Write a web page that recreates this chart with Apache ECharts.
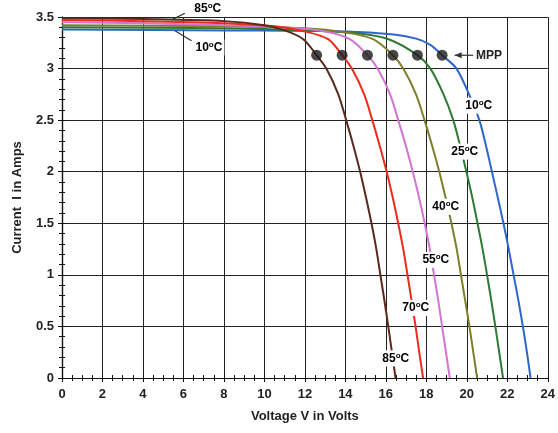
<!DOCTYPE html>
<html>
<head>
<meta charset="utf-8">
<script src="https://cdn.jsdelivr.net/npm/echarts@6/dist/echarts.min.js"></script>
<style>html,body{margin:0;padding:0;background:#fff}#c{width:558px;height:433px}</style>
</head>
<body>
<div id="c"></div>
<script>
// ---- data (Voltage V, Current A) ----
const temps = ['85', '70', '55', '40', '25', '10'];
const curve85 = [[0,3.49],[4,3.48],[8,3.46],[10,3.42],[11,3.37],[11.92,3.285],[12.58,3.13],[13.06,3.0],[13.65,2.75],[14.04,2.5],[14.4,2.25],[14.73,2.0],[15.02,1.75],[15.29,1.5],[15.53,1.25],[15.73,1.0],[15.93,0.75],[16.12,0.5],[16.3,0.25],[16.48,0]];
const curve70 = [[0,3.47],[4,3.46],[8,3.44],[10.5,3.41],[12,3.36],[13.15,3.285],[13.84,3.13],[14.32,3.0],[14.93,2.75],[15.33,2.5],[15.7,2.25],[16.04,2.0],[16.34,1.75],[16.61,1.5],[16.86,1.25],[17.07,1.0],[17.27,0.75],[17.47,0.5],[17.65,0.25],[17.84,0]];
const curve55 = [[0,3.45],[4,3.44],[8,3.42],[11,3.40],[13,3.36],[14.22,3.285],[15.09,3.13],[15.59,3.0],[16.21,2.75],[16.61,2.5],[16.99,2.25],[17.33,2.0],[17.64,1.75],[17.92,1.5],[18.17,1.25],[18.38,1.0],[18.59,0.75],[18.78,0.5],[18.97,0.25],[19.16,0]];
const curve40 = [[0,3.42],[8,3.41],[12,3.39],[14,3.35],[15.37,3.285],[16.35,3.13],[16.86,3.0],[17.49,2.75],[17.91,2.5],[18.29,2.25],[18.64,2.0],[18.95,1.75],[19.24,1.5],[19.5,1.25],[19.71,1.0],[19.92,0.75],[20.13,0.5],[20.32,0.25],[20.51,0]];
const curve25 = [[0,3.40],[8,3.39],[12,3.37],[14.7,3.34],[16.2,3.28],[17.56,3.13],[18.2,3.0],[18.85,2.75],[19.33,2.5],[19.67,2.25],[19.98,2.0],[20.27,1.75],[20.53,1.5],[20.78,1.25],[21.0,1.0],[21.21,0.75],[21.41,0.5],[21.6,0.25],[21.79,0]];
const curve10 = [[0,3.38],[8,3.37],[14,3.36],[16.4,3.33],[17.5,3.29],[18.2,3.23],[18.78,3.13],[19.49,3.0],[20.11,2.75],[20.62,2.5],[20.95,2.25],[21.24,2.0],[21.53,1.75],[21.81,1.5],[22.07,1.25],[22.31,1.0],[22.55,0.75],[22.77,0.5],[22.97,0.25],[23.15,0]];
const mppV = [12.58, 13.84, 15.09, 16.35, 17.56, 18.78];
const mppI = [3.13, 3.13, 3.13, 3.13, 3.13, 3.13];
const xTicks = [0,2,4,6,8,10,12,14,16,18,20,22,24];
const yTicks = [0,0.5,1,1.5,2,2.5,3,3.5];
// label anchors (data units)
const curveLabelPos = [[16.49,0.19],[17.48,0.68],[18.47,1.145],[18.96,1.66],[19.9,2.195],[20.59,2.64]];
const topLabel85 = [7.2, 3.578];
const topLabel10 = [7.26, 3.205];
const leader85 = [[5.42,3.472],[6.07,3.537]];
const leader10 = [[5.58,3.366],[6.4,3.269]];
const mppArrow = [[20.32,3.129],[19.4,3.129]];
const mppText = [20.45, 3.125];

const colors = ['#5a2a1e', '#ee2a1d', '#d274d0', '#7d7f2c', '#2e7a34', '#2f66cc'];
const curves = [curve85, curve70, curve55, curve40, curve25, curve10];

const FONT = 'Liberation Sans, Arial, sans-serif';
const chart = echarts.init(document.getElementById('c'), null, {renderer: 'canvas'});

const axisCommon = {
  type: 'value',
  axisLine: {show: true, lineStyle: {color: '#111', width: 1.2}},
  splitLine: {show: true, lineStyle: {color: '#222', width: 1}},
  minorTick: {show: true, length: 3, lineStyle: {color: '#111', width: 1}},
  axisTick: {show: true, length: 4, lineStyle: {color: '#111', width: 1}},
};

const series = [];
for (let k = curves.length - 1; k >= 0; k--) {
  series.push({
    type: 'line', name: temps[k] + '°C', data: curves[k], smooth: 0.3, smoothMonotone: 'none',
    showSymbol: false, symbol: 'none', lineStyle: {color: colors[k], width: 2}, z: 3, animation: false
  });
}
series.push({
  type: 'scatter', data: mppV.map((v, i) => [v, mppI[i]]), symbol: 'circle', symbolSize: 11,
  itemStyle: {color: '#1a1a1a'}, z: 5, animation: false
});

chart.setOption({
  animation: false,
  backgroundColor: '#fff',
  grid: {left: 62, right: 9, top: 17, bottom: 55},
  xAxis: [
    Object.assign({}, axisCommon, {
      min: 0, max: 24, interval: 2, position: 'bottom',
      minorTick: Object.assign({}, axisCommon.minorTick, {splitNumber: 4}),
      axisLabel: {fontFamily: FONT, fontWeight: 'bold', fontSize: 13, color: '#222', margin: 10,
        formatter: v => xTicks.includes(v) ? String(v) : ''},
      name: 'Voltage V in Volts', nameLocation: 'middle', nameGap: 32,
      nameTextStyle: {fontFamily: FONT, fontWeight: 'bold', fontSize: 13, color: '#222'}
    }),
    Object.assign({}, axisCommon, {
      min: 0, max: 24, interval: 2, position: 'bottom',
      splitLine: {show: false},
      axisTick: {show: true, inside: true, length: 4, lineStyle: {color: '#111'}},
      minorTick: {show: true, splitNumber: 4, length: 3, lineStyle: {color: '#111'}},
      axisLabel: {show: false}
    })
  ],
  yAxis: [
    Object.assign({}, axisCommon, {
      min: 0, max: 3.5, interval: 0.5, position: 'left',
      minorTick: Object.assign({}, axisCommon.minorTick, {splitNumber: 5}),
      axisLabel: {fontFamily: FONT, fontWeight: 'bold', fontSize: 13, color: '#222', margin: 8,
        formatter: v => yTicks.includes(v) ? String(v) : ''},
      name: 'Current  I in Amps', nameLocation: 'middle', nameGap: 38,
      nameTextStyle: {fontFamily: FONT, fontWeight: 'bold', fontSize: 13, color: '#222'}
    }),
    Object.assign({}, axisCommon, {
      min: 0, max: 3.5, interval: 0.5, position: 'left',
      splitLine: {show: false},
      axisTick: {show: true, inside: true, length: 4, lineStyle: {color: '#111'}},
      minorTick: {show: true, splitNumber: 5, length: 3, lineStyle: {color: '#111'}},
      axisLabel: {show: false}
    })
  ],
  series: series
});

function px(p) { return chart.convertToPixel({gridIndex: 0}, p); }
const rich = {
  n: {fontFamily: FONT, fontWeight: 'bold', fontSize: 12, color: '#222', lineHeight: 14},
  s: {fontFamily: FONT, fontWeight: 'bold', fontSize: 8, color: '#222', lineHeight: 14, verticalAlign: 'top', padding: [0, 0, 4, 0]}
};
function tempLabel(t, pos, bg) {
  const p = px(pos);
  return {
    type: 'text', x: p[0], y: p[1], z: 100,
    style: {
      text: '{n|' + t + '}{s|o}{n|C}', rich: rich, align: 'center', verticalAlign: 'middle',
      backgroundColor: bg ? '#fff' : 'transparent', padding: [1, 2, 1, 2]
    }
  };
}
const g = [];
for (let k = 0; k < temps.length; k++) g.push(tempLabel(temps[k], curveLabelPos[k], true));
g.push(tempLabel('85', topLabel85, true));
g.push(tempLabel('10', topLabel10, true));
function seg(a, b) {
  const p = px(a), q = px(b);
  return {type: 'line', z: 100, shape: {x1: p[0], y1: p[1], x2: q[0], y2: q[1]}, style: {stroke: '#333', lineWidth: 1.2}};
}
g.push(seg(leader85[0], leader85[1]));
g.push(seg(leader10[0], leader10[1]));
g.push(seg(mppArrow[0], mppArrow[1]));
const ah = px(mppArrow[1]);
g.push({type: 'polygon', z: 100, shape: {points: [[ah[0], ah[1]], [ah[0] + 7, ah[1] - 3], [ah[0] + 7, ah[1] + 3]]}, style: {fill: '#333'}});
const mt = px(mppText);
g.push({type: 'text', x: mt[0], y: mt[1], z: 100, style: {text: 'MPP', fontFamily: FONT, fontWeight: 'bold', fontSize: 12, fill: '#222', align: 'left', verticalAlign: 'middle'}});
chart.setOption({graphic: g});
</script>
</body>
</html>
